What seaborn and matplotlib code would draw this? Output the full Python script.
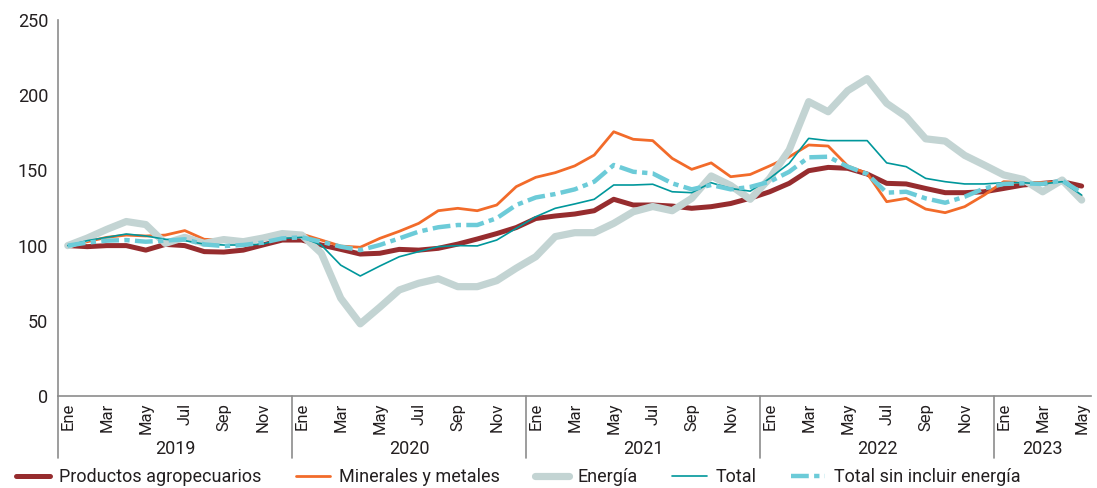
import numpy as np
import pandas as pd
import matplotlib
matplotlib.use("Agg")
import matplotlib.pyplot as plt
import matplotlib.transforms as mtransforms
import seaborn as sns

# Monthly index values, Jan 2019 - May 2023
month_names = ["Ene", "Feb", "Mar", "Abr", "May", "Jun",
               "Jul", "Ago", "Sep", "Oct", "Nov", "Dic"]
years = [2019, 2020, 2021, 2022, 2023]

agro = [100, 99.3, 100, 100, 97, 100.8, 100, 96, 95.7, 97, 100.4, 103.7,
        103.7, 100.4, 97.5, 94.4, 94.9, 97.5, 97, 98.2, 101, 104.4, 108, 112,
        118, 119.7, 121, 123.2, 130.8, 127, 127, 126.3, 124.8, 125.9, 128, 131.5,
        135.8, 141.4, 149.8, 152, 151.4, 147.6, 141.4, 141, 138, 135.2, 135.2, 135.8,
        138, 140.3, 141.4, 142.5, 139.6]
minerales = [100, 102.6, 105.5, 107, 106.4, 107, 110, 104.2, 103.7, 103.3, 103.7, 107,
             107.7, 103.7, 99.7, 98.9, 104.8, 109.5, 114.8, 123.2, 124.8, 123.2, 127, 139.2,
             145.4, 148.5, 153, 160.2, 175.7, 170.7, 169.8, 158, 150.7, 155, 145.8, 147.3,
             153, 159, 166.9, 166.2, 153, 148, 129.2, 131.4, 124.3, 121.9, 125.9, 133.6,
             142.5, 142, 142, 142, 132.5]
energia = [100, 105, 110.8, 116, 114, 101.5, 105.5, 101.5, 104, 102.6, 105, 108,
           107, 95, 65, 48, 59, 70.5, 75, 78, 72.7, 72.7, 76.7, 85,
           92.6, 106, 108.6, 108.6, 114.8, 122.5, 126, 123.2, 131.4, 146.3, 140, 130.8,
           144.7, 163.6, 195.7, 189, 203, 211, 194.6, 185.7, 171, 169.5, 160, 153.6,
           147, 144, 135.8, 143.6, 130.3]
total = [100, 103.3, 105.5, 107.7, 106.4, 104.2, 103.3, 101, 100.4, 100.4, 101, 104.8,
         105.5, 100.4, 87, 79.8, 86.4, 92.6, 96, 99.3, 100, 99.8, 103.7, 111.5,
         119.2, 124.8, 127.7, 130.8, 140.3, 140.3, 140.8, 135.8, 135.2, 141.8, 138, 136.2,
         144.7, 154.7, 171.3, 169.8, 169.8, 169.8, 155, 152.5, 144.7, 142.5, 141, 141,
         141.8, 141.8, 141, 142.5, 133.6]
sin_energia = [100, 102, 103.3, 103.7, 102.6, 103.3, 104.2, 100.8, 99.7, 100.4, 102, 104.8,
               105.5, 102.6, 99.3, 97, 100.4, 104.8, 109.3, 112.2, 113.7, 113.7, 118.2, 127,
               132, 134.3, 137.4, 142.5, 153.6, 149.1, 148, 141.4, 137.4, 140.3, 137.4, 139,
               142.5, 149.1, 158.7, 159.1, 152.5, 147.6, 135.2, 135.8, 131.4, 128.5, 132.5, 138,
               141, 141.4, 141, 143.2, 135.2]

series_names = ["Productos agropecuarios", "Minerales y metales", "Energía",
                "Total", "Total sin incluir energía"]
colors = ["#962c2e", "#f26b2a", "#c3d4d3", "#00979b", "#6ccbd8"]
widths = [3.6, 2.0, 5.2, 1.2, 3.2]

n = len(agro)
month_labels = [month_names[i % 12] for i in range(n)]
df = pd.DataFrame({"idx": np.arange(n),
                   series_names[0]: agro,
                   series_names[1]: minerales,
                   series_names[2]: energia,
                   series_names[3]: total,
                   series_names[4]: sin_energia})

sns.set_style("white")
plt.rcParams["font.family"] = ["Roboto", "DejaVu Sans"]
text_color = "#231f20"
axis_color = "#8c8c8c"

fig = plt.figure(figsize=(10.97, 4.88), dpi=100)
ax = fig.add_axes([0.0529, 0.1885, 0.942, 0.7705])

for name, c, lw in zip(series_names, colors, widths):
    sns.lineplot(data=df, x="idx", y=name, ax=ax, color=c, linewidth=lw,
                 label=name)

# dash-dot for the last series
ax.lines[-1].set_dashes([4, 1.2, 1.2, 1.2])

ax.set_xlim(-0.5, n - 0.5)
ax.set_ylim(0, 250)
ax.set_yticks(range(0, 251, 50))
ax.set_xlabel("")
ax.set_ylabel("")
sns.despine(ax=ax)
for s in ["left", "bottom"]:
    ax.spines[s].set_color(axis_color)
    ax.spines[s].set_linewidth(1.2)

ax.tick_params(axis="y", length=5, width=1.2, color=axis_color, pad=2,
               labelsize=13, labelcolor=text_color)
shown = list(range(0, n, 2))
ax.set_xticks(shown)
ax.set_xticklabels([month_labels[i] for i in shown], rotation=90)
ax.tick_params(axis="x", which="major", length=0, pad=5,
               labelsize=12, labelcolor=text_color)
ax.set_xticks(np.arange(1.5, n - 1, 2), minor=True)
ax.tick_params(axis="x", which="minor", length=4, width=1.2, color=axis_color)

# year separators and labels
trans = mtransforms.blended_transform_factory(ax.transData, ax.transAxes)
for k, yr in enumerate(years):
    start = k * 12 - 0.5
    ax.plot([start, start], [0, -0.165], transform=trans, color=axis_color,
            lw=1.2, clip_on=False)
    end = min(start + 12, n - 0.5)
    ax.text((start + end) / 2, -0.142, str(yr), transform=trans, ha="center",
            va="center", fontsize=13, color=text_color)

ax.get_legend().remove()
handles, labels = ax.get_legend_handles_labels()
leg = fig.legend(handles, labels, loc="center left", bbox_to_anchor=(0.008, 0.022),
                 ncol=5, frameon=False, fontsize=13, handlelength=1.9,
                 columnspacing=1.9, handletextpad=0.5, borderaxespad=0)
for t in leg.get_texts():
    t.set_color(text_color)

fig.savefig("out.png", dpi=100)
